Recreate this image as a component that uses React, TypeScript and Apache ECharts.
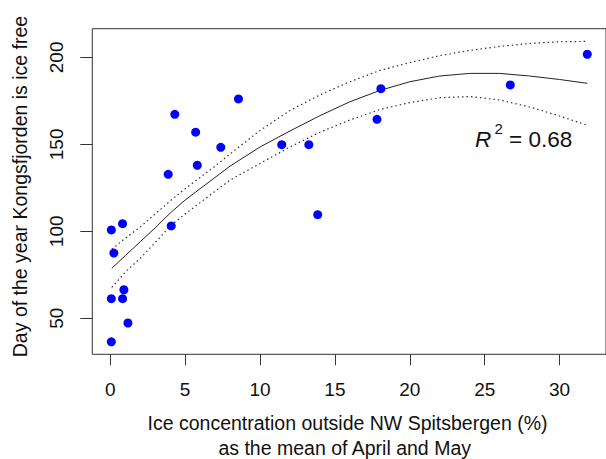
import React, { useEffect, useRef } from "react";
import * as echarts from "echarts";

// Observations: ice concentration (%) and day of year ice free
const iceConc = [0.07, 0.07, 0.82, 0.91, 1.18, 0.24, 0.07, 0.82, 4.07, 3.87, 4.31, 5.7, 5.81, 7.38, 8.56, 11.45, 13.26, 13.85, 17.81, 18.07, 26.71, 31.85];
const iceFreeDay = [36.5, 61.3, 61.3, 66.4, 47.3, 87.5, 100.8, 104.4, 103.1, 132.8, 167.3, 157, 138, 148.3, 176.1, 149.8, 149.8, 109.6, 164.4, 182, 184.2, 201.8];

// Fitted curve and confidence band
const curveX = [0.1, 1, 2, 3, 4, 5, 6, 7, 8, 10, 12, 14, 16, 18, 20, 22, 24, 26, 28, 30, 31.85];
const fitY = [78.7, 86, 94, 102, 110.5, 118, 124.5, 131, 137.5, 148.5, 157.7, 166.5, 174.5, 181, 186, 189.3, 190.8, 190.8, 189.3, 187.3, 185.1];
const upperY = [89.7, 96, 102.5, 110, 117.5, 124.5, 131, 137.5, 144.5, 158, 169.5, 178.5, 186, 192.5, 197, 201, 204, 206.3, 208, 209, 209.2];
const lowerY = [67.8, 76.5, 84.5, 93.5, 103, 110, 116.5, 123, 129.5, 139, 148.5, 157, 164, 170, 174, 176.8, 177.5, 175.5, 171.5, 166.3, 161];

const xTicks = [0, 5, 10, 15, 20, 25, 30];
const yTicks = [50, 100, 150, 200];

const xTitle1 = "Ice concentration outside NW Spitsbergen (%)";
const xTitle2 = "as the mean of April and May";
const yTitle = "Day of the year Kongsfjorden is ice free";
const r2Value = "= 0.68";

const FONT = "'Liberation Sans', Arial, sans-serif";

export default function App() {
  const ref = useRef<HTMLDivElement>(null);
  useEffect(() => {
    if (!ref.current) return;
    const chart = echarts.init(ref.current, undefined, { renderer: "svg" });
    const pts = iceConc.map((x, i) => [x, iceFreeDay[i]]);
    const fit = curveX.map((x, i) => [x, fitY[i]]);
    const up = curveX.map((x, i) => [x, upperY[i]]);
    const lo = curveX.map((x, i) => [x, lowerY[i]]);
    chart.setOption({
      animation: false,
      backgroundColor: "#ffffff",
      grid: {
        left: 92.3,
        top: 28.7,
        right: -11.5,
        bottom: 104.7,
        show: true,
        borderColor: "#333",
        borderWidth: 1,
        backgroundColor: "transparent",
      },
      xAxis: {
        type: "value",
        min: -1.2,
        max: 33.1,
        axisLine: { show: false, onZero: false },
        splitLine: { show: false },
        axisTick: {
          show: true,
          inside: false,
          customValues: xTicks,
          length: 11,
          lineStyle: { color: "#333", width: 1 },
        },
        axisLabel: {
          customValues: xTicks,
          fontSize: 19,
          fontFamily: FONT,
          color: "#111",
          margin: 26,
        },
      },
      yAxis: {
        type: "value",
        min: 29.3,
        max: 216.5,
        axisLine: { show: false, onZero: false },
        splitLine: { show: false },
        axisTick: {
          show: true,
          inside: false,
          customValues: yTicks,
          length: 12,
          lineStyle: { color: "#333", width: 1 },
        },
        axisLabel: {
          customValues: yTicks,
          rotate: 90,
          fontSize: 19,
          fontFamily: FONT,
          color: "#111",
          margin: 26,
        },
      },
      series: [
        {
          type: "line",
          data: up,
          showSymbol: false,
          symbol: "none",
          lineStyle: { color: "#333", width: 1.2, type: [1.5, 3] },
          z: 2,
        },
        {
          type: "line",
          data: lo,
          showSymbol: false,
          symbol: "none",
          lineStyle: { color: "#333", width: 1.2, type: [1.5, 3] },
          z: 2,
        },
        {
          type: "line",
          data: fit,
          showSymbol: false,
          symbol: "none",
          lineStyle: { color: "#222", width: 1 },
          z: 3,
        },
        {
          type: "scatter",
          data: pts,
          symbol: "circle",
          symbolSize: 9,
          itemStyle: { color: "#0000ff", opacity: 1 },
          z: 4,
        },
      ],
      graphic: [
        {
          type: "text",
          x: 20,
          y: 186.5,
          rotation: Math.PI / 2,
          style: {
            text: yTitle,
            fontSize: 19.5,
            fontFamily: FONT,
            fill: "#111",
            align: "center",
            verticalAlign: "middle",
          },
        },
        {
          type: "text",
          x: 347.5,
          y: 423,
          style: {
            text: xTitle1,
            fontSize: 19.5,
            fontFamily: FONT,
            fill: "#111",
            align: "center",
            verticalAlign: "middle",
          },
        },
        {
          type: "text",
          x: 344.7,
          y: 448,
          style: {
            text: xTitle2,
            fontSize: 19.5,
            fontFamily: FONT,
            fill: "#111",
            align: "center",
            verticalAlign: "middle",
          },
        },
        {
          type: "text",
          x: 475,
          y: 139,
          style: {
            text: "R",
            fontSize: 22.5,
            fontStyle: "italic",
            fontFamily: FONT,
            fill: "#111",
            align: "left",
            verticalAlign: "middle",
          },
        },
        {
          type: "text",
          x: 494.5,
          y: 128.5,
          style: {
            text: "2",
            fontSize: 15,
            fontFamily: FONT,
            fill: "#111",
            align: "left",
            verticalAlign: "middle",
          },
        },
        {
          type: "text",
          x: 509,
          y: 139,
          style: {
            text: r2Value,
            fontSize: 22.5,
            fontFamily: FONT,
            fill: "#111",
            align: "left",
            verticalAlign: "middle",
          },
        },
      ],
    });
    return () => chart.dispose();
  }, []);
  return (
    <div
      ref={ref}
      style={{ position: "fixed", left: 0, top: 0, width: 606, height: 459, overflow: "hidden" }}
    />
  );
}
